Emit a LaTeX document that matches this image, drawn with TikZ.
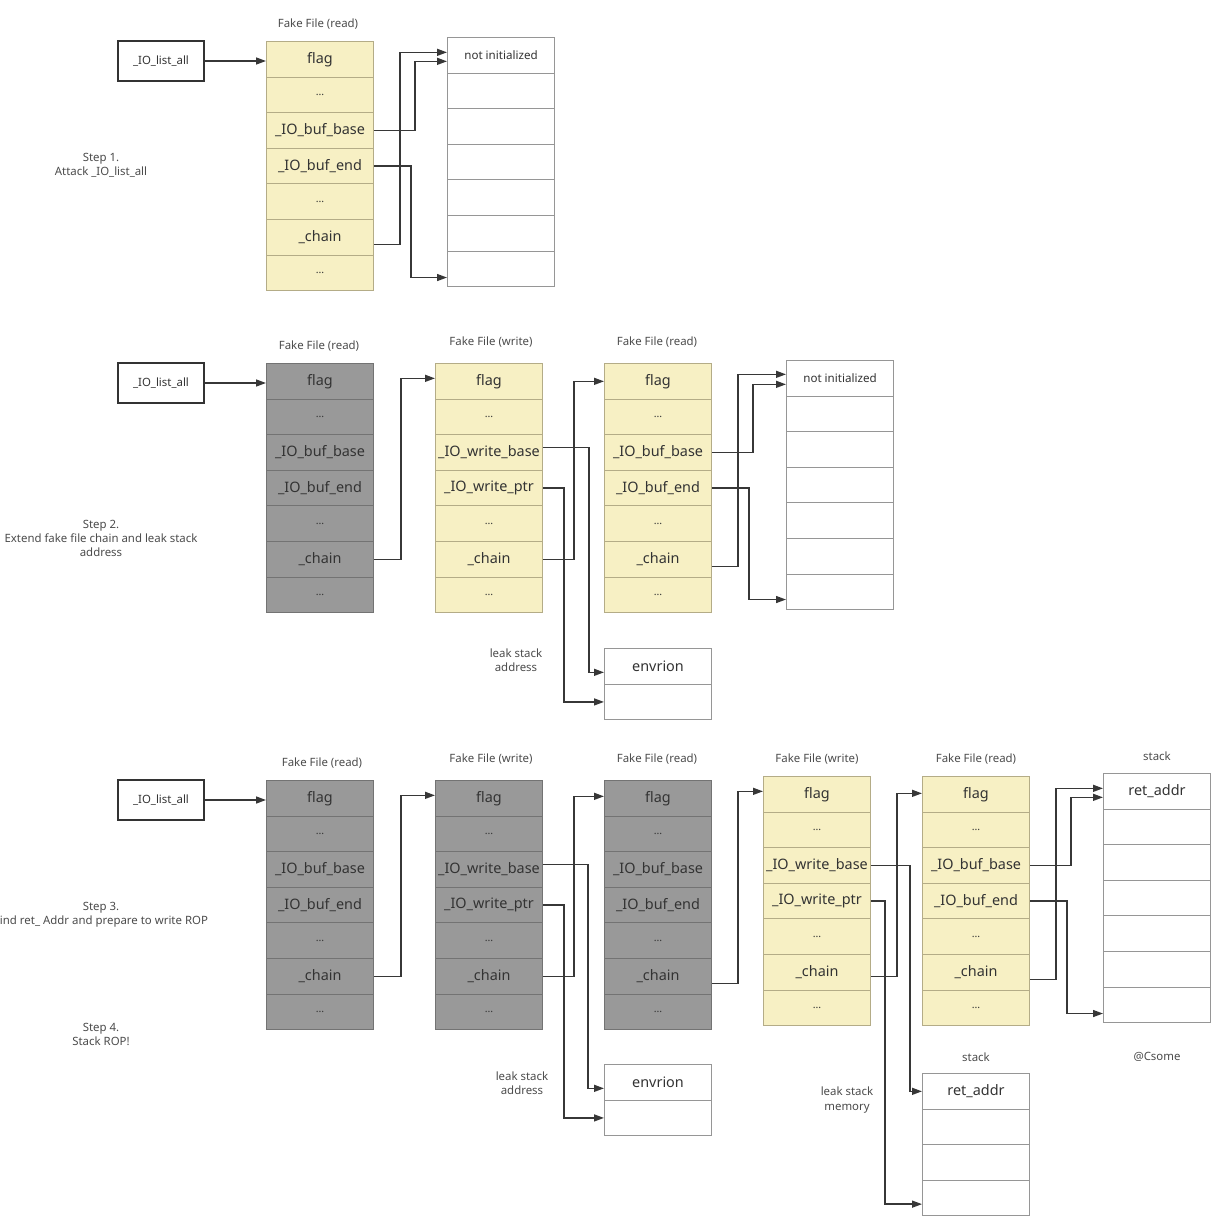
\documentclass[tikz,border=0pt]{standalone}
\usepackage{fontspec}
\setmainfont{Noto Sans}
\usetikzlibrary{arrows.meta,positioning,calc}
\definecolor{fakeyellow}{RGB}{247,240,196}
\definecolor{yellowedge}{RGB}{180,172,135}
\definecolor{usedgray}{RGB}{153,153,153}
\definecolor{usededge}{RGB}{115,115,115}
\definecolor{memedge}{RGB}{150,150,150}
\definecolor{wire}{RGB}{55,55,55}
\definecolor{txt}{RGB}{75,75,75}

% one column of 35.6px cells: name, left, top, style, labels
\newcommand{\memcol}[5]{%
  \foreach \lbl [count=\i] in {#5}
    \node[#4, anchor=north west] (#1\i) at ({#2},{#3+35.6*(\i-1)}) {\lbl};
}
\newcommand{\gap}{{\fontsize{6}{7}\selectfont\ldots}}
\newcommand{\notinit}{{\fontsize{6.6}{8}\selectfont not initialized}}

\begin{document}
\begin{tikzpicture}[x=0.02cm, y=-0.02cm,
  cell/.style={draw, minimum width=2.14cm, minimum height=0.712cm, inner sep=0pt,
    line width=0.6pt, text=black!80, font=\fontsize{8.2}{10}\selectfont},
  fresh/.style={cell, fill=fakeyellow, draw=yellowedge},
  used/.style={cell, fill=usedgray, draw=usededge},
  mem/.style={cell, fill=white, draw=memedge},
  head/.style={text=txt, font=\fontsize{6.5}{8}\selectfont, align=center},
  listbox/.style={draw=black!80, line width=0.9pt, minimum width=1.72cm, minimum height=0.8cm,
    font=\fontsize{6.5}{8}\selectfont, text=black!80},
  link/.style={draw=wire, line width=0.8pt, -{Triangle[length=0.2cm,width=0.14cm]}}]
\useasboundingbox (0,0) rectangle (1227,1232);

% ---------- step 1: attack _IO_list_all
\node[listbox] (s1list) at (161,61) {\_IO\_list\_all};
\node[head] (s1head) at (318,24) {Fake File (read)};
\memcol{s1read}{266}{41}{fresh}{flag,\gap,\_IO\_buf\_base,\_IO\_buf\_end,\gap,\_chain,\gap}
\memcol{s1buf}{447}{37}{mem}{\notinit,{},{},{},{},{},{}}
\node[head] (s1step) at (101,165) {Step 1.\\Attack \_IO\_list\_all};

\draw[link] (s1list.east) -- (s1list.east -| s1read1.west);
\draw[link] (s1read3.east) -- ++(41,0) |- ($(s1buf1.west)+(0,6)$);
\draw[link] ($(s1read6.east)+(0,7)$) -- ++(26,0) |- ($(s1buf1.west)+(0,-3)$);
\draw[link] (s1read4.east) -- ++(37,0) |- ($(s1buf7.west)+(0,8.6)$);

% ---------- step 2: extend the chain, leak stack address
\node[listbox] (s2list) at (161,383) {\_IO\_list\_all};
\node[head] (s2h1) at (319,346) {Fake File (read)};
\node[head] (s2h2) at (491,342) {Fake File (write)};
\node[head] (s2h3) at (657,342) {Fake File (read)};
\memcol{s2read}{266}{363}{used}{flag,\gap,\_IO\_buf\_base,\_IO\_buf\_end,\gap,\_chain,\gap}
\memcol{s2write}{435}{363}{fresh}{flag,\gap,\_IO\_write\_base,\_IO\_write\_ptr,\gap,\_chain,\gap}
\memcol{s2next}{604}{363}{fresh}{flag,\gap,\_IO\_buf\_base,\_IO\_buf\_end,\gap,\_chain,\gap}
\memcol{s2buf}{786}{360}{mem}{\notinit,{},{},{},{},{},{}}
\memcol{s2env}{604}{648}{mem}{envrion,{}}
\node[head] (s2leak) at (516,660) {leak stack\\address};
\node[head] (s2step) at (101,538) {Step 2.\\Extend fake file chain and leak stack\\address};

\draw[link] (s2list.east) -- (s2list.east -| s2read1.west);
\draw[link] (s2read6.east) -- ++(27,0) |- ($(s2write1.west)+(0,-3)$);
\draw[link] (s2write6.east) -- ++(31,0) |- (s2next1.west);
\draw[link] ($(s2write3.east)+(0,-5)$) -- ++(46,0) |- ($(s2env1.west)+(0,6)$);
\draw[link] (s2write4.east) -- ++(21,0) |- (s2env2.west);
\draw[link] (s2next3.east) -- ++(41,0) |- ($(s2buf1.west)+(0,6)$);
\draw[link] ($(s2next6.east)+(0,7)$) -- ++(26,0) |- ($(s2buf1.west)+(0,-4)$);
\draw[link] (s2next4.east) -- ++(37,0) |- ($(s2buf7.west)+(0,7.6)$);

% ---------- step 3 and 4: find ret_addr, stack ROP
\node[listbox] (s3list) at (161,800) {\_IO\_list\_all};
\node[head] (s3h1) at (322,763) {Fake File (read)};
\node[head] (s3h2) at (491,759) {Fake File (write)};
\node[head] (s3h3) at (657,759) {Fake File (read)};
\node[head] (s3h4) at (817,759) {Fake File (write)};
\node[head] (s3h5) at (976,759) {Fake File (read)};
\node[head] (s3h6) at (1157,756) {stack};
\memcol{s3read}{266}{780}{used}{flag,\gap,\_IO\_buf\_base,\_IO\_buf\_end,\gap,\_chain,\gap}
\memcol{s3write}{435}{780}{used}{flag,\gap,\_IO\_write\_base,\_IO\_write\_ptr,\gap,\_chain,\gap}
\memcol{s3next}{604}{780}{used}{flag,\gap,\_IO\_buf\_base,\_IO\_buf\_end,\gap,\_chain,\gap}
\memcol{s3wr}{763}{776}{fresh}{flag,\gap,\_IO\_write\_base,\_IO\_write\_ptr,\gap,\_chain,\gap}
\memcol{s3rd}{922}{776}{fresh}{flag,\gap,\_IO\_buf\_base,\_IO\_buf\_end,\gap,\_chain,\gap}
\memcol{s3stack}{1103}{773}{mem}{ret\_addr,{},{},{},{},{},{}}
\memcol{s3env}{604}{1064}{mem}{envrion,{}}
\memcol{s3low}{922}{1073}{mem}{ret\_addr,{},{},{}}
\node[head] (s3h7) at (976,1057) {stack};
\node[head] (s3sign) at (1157,1057) {@Csome};
\node[head] (s3leak) at (522,1083) {leak stack\\address};
\node[head] (s3mem) at (847,1100) {leak stack\\memory};
\node[head] (s3step) at (101,915) {Step 3.\\Find ret\_ Addr and prepare to write ROP};
\node[head] (s4step) at (101,1034) {Step 4.\\Stack ROP!};

\draw[link] (s3list.east) -- (s3list.east -| s3read1.west);
\draw[link] (s3read6.east) -- ++(27,0) |- ($(s3write1.west)+(0,-3)$);
\draw[link] (s3write6.east) -- ++(31,0) |- ($(s3next1.west)+(0,-2)$);
\draw[link] ($(s3write3.east)+(0,-5)$) -- ++(45,0) |- ($(s3env1.west)+(0,6)$);
\draw[link] (s3write4.east) -- ++(21,0) |- (s3env2.west);
\draw[link] ($(s3next6.east)+(0,7)$) -- ++(26,0) |- ($(s3wr1.west)+(0,-3)$);
\draw[link] ($(s3wr6.east)+(0,4)$) -- ++(26,0) |- ($(s3rd1.west)+(0,-1)$);
\draw[link] (s3wr3.east) -- ++(39,0) |- (s3low1.west);
\draw[link] (s3wr4.east) -- ++(14,0) |- ($(s3low4.west)+(0,6)$);
\draw[link] (s3rd3.east) -- ++(41,0) |- ($(s3stack1.west)+(0,6)$);
\draw[link] ($(s3rd6.east)+(0,7)$) -- ++(26,0) |- ($(s3stack1.west)+(0,-3)$);
\draw[link] (s3rd4.east) -- ++(37,0) |- ($(s3stack7.west)+(0,8.6)$);
\end{tikzpicture}
\end{document}
